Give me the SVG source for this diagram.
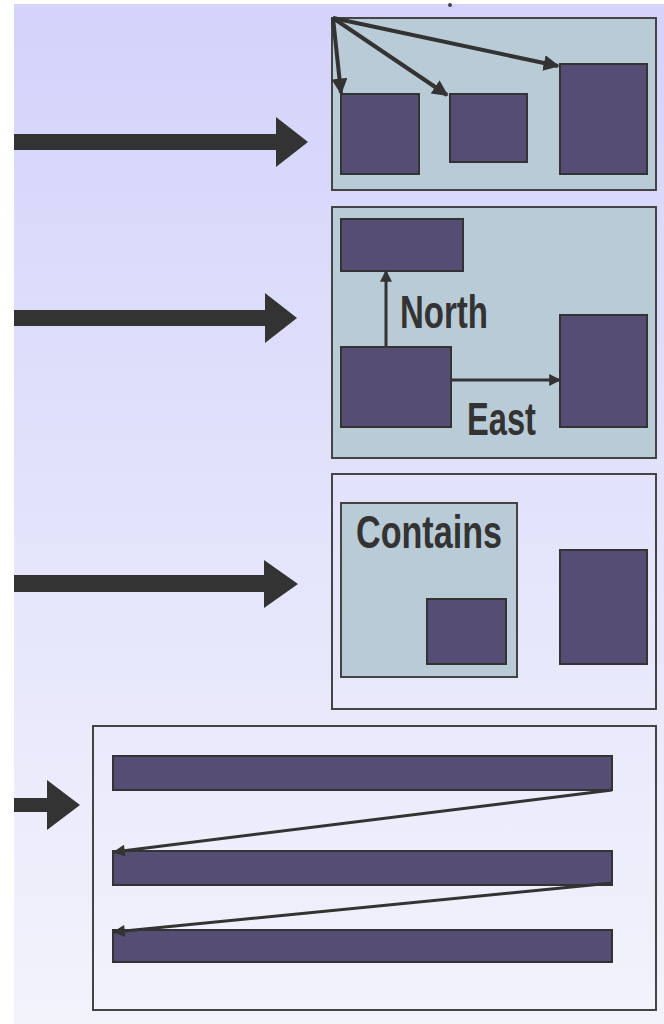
<svg xmlns="http://www.w3.org/2000/svg" width="664" height="1024" viewBox="0 0 664 1024">
<defs>
<linearGradient id="bg" x1="0" y1="0" x2="0" y2="1">
<stop offset="0" stop-color="#d3d3fb"/>
<stop offset="1" stop-color="#f3f3fc"/>
</linearGradient>
<marker id="ah" viewBox="0 0 10 10" refX="9" refY="5" markerWidth="4" markerHeight="4" orient="auto" markerUnits="strokeWidth">
<path d="M0,0 L10,5 L0,10 z" fill="#333"/>
</marker>
<marker id="ahs" viewBox="0 0 10 10" refX="9" refY="5" markerWidth="5" markerHeight="4" orient="auto" markerUnits="strokeWidth">
<path d="M0,0 L10,5 L0,10 z" fill="#333"/>
</marker>
</defs>
<style>
.panel{fill:#b9cbd6;stroke:#444;stroke-width:2}
.frame{fill:none;stroke:#444;stroke-width:2}
.box{fill:#554d74;stroke:#333;stroke-width:2}
.thin{stroke:#333;stroke-width:3;fill:none}
.med{stroke:#333;stroke-width:4;fill:none}
.big{fill:#333}
.lbl{font-family:"Liberation Sans",Arial,sans-serif;font-weight:bold;font-size:46px;fill:#333}
</style>
<rect width="664" height="1024" fill="#fff"/>
<rect x="14" y="4" width="650" height="1020" fill="url(#bg)"/>
<circle cx="450" cy="5" r="2" fill="#444"/>

<g id="big-arrows">
<path class="big" d="M14,134 H276 V117 L308,142 L276,167 V150 H14 z"/>
<path class="big" d="M14,310 H265 V293 L297,318 L265,343 V326 H14 z"/>
<path class="big" d="M14,575 H264 V560 L298,584 L264,608 V592 H14 z"/>
<path class="big" d="M14,798 H47 V780 L80,805 L47,830 V812 H14 z"/>
</g>

<g id="panel-1">
<rect class="panel" x="332" y="18" width="324" height="172"/>
<rect class="box" x="341" y="94" width="78" height="80"/>
<rect class="box" x="450" y="94" width="77" height="68"/>
<rect class="box" x="560" y="64" width="87" height="110"/>
</g>

<g id="panel-2">
<rect class="panel" x="332" y="207" width="324" height="251"/>
<rect class="box" x="341" y="219" width="122" height="52"/>
<rect class="box" x="341" y="347" width="110" height="80"/>
<rect class="box" x="560" y="315" width="87" height="112"/>
<text class="lbl" x="400" y="328" textLength="88" lengthAdjust="spacingAndGlyphs">North</text>
<text class="lbl" x="467" y="435" textLength="69" lengthAdjust="spacingAndGlyphs">East</text>
</g>

<g id="panel-3">
<rect class="frame" x="332" y="474" width="324" height="235"/>
<rect class="panel" x="341" y="503" width="176" height="174"/>
<text class="lbl" x="356" y="548" textLength="146" lengthAdjust="spacingAndGlyphs">Contains</text>
<rect class="box" x="427" y="599" width="79" height="65"/>
<rect class="box" x="560" y="550" width="87" height="114"/>
</g>

<g id="panel-4">
<rect class="frame" x="93" y="726" width="563" height="284"/>
<rect class="box" x="113" y="756" width="499" height="34"/>
<rect class="box" x="113" y="851" width="499" height="34"/>
<rect class="box" x="113" y="930" width="499" height="32"/>
</g>

<g id="connectors">
<line class="med" x1="333" y1="18" x2="341" y2="93" marker-end="url(#ah)"/>
<line class="med" x1="333" y1="18" x2="447" y2="95" marker-end="url(#ah)"/>
<line class="med" x1="333" y1="18" x2="558" y2="66" marker-end="url(#ah)"/>
<line class="thin" x1="386" y1="347" x2="386" y2="271" marker-end="url(#ah)"/>
<line class="thin" x1="451" y1="380" x2="560" y2="380" marker-end="url(#ah)"/>
<line class="thin" x1="612" y1="790" x2="114" y2="852" marker-end="url(#ahs)"/>
<line class="thin" x1="612" y1="883" x2="114" y2="932" marker-end="url(#ahs)"/>
</g>
</svg>
